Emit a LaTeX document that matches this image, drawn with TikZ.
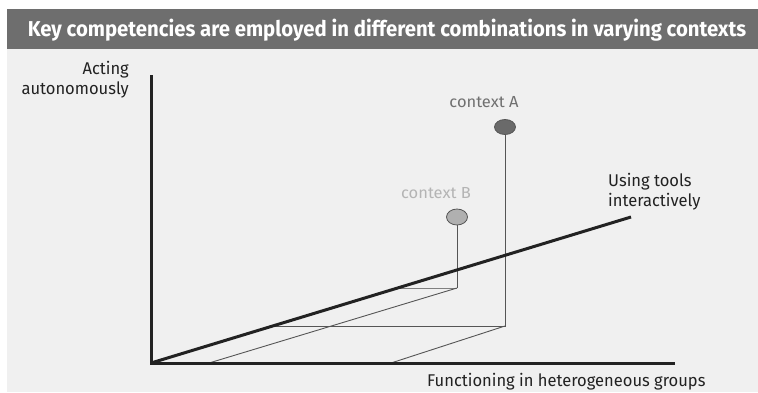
\documentclass[tikz,border=0pt]{standalone}
\usepackage{fontspec}
\setmainfont{Fira Sans}
\newfontfamily\labelfont[FakeStretch=0.972]{Fira Sans}
\newfontfamily\ctxfont[FakeStretch=1.03]{Fira Sans}
\newfontfamily\titlefont[FakeStretch=0.945]{Fira Sans Bold}
\usetikzlibrary{shapes.geometric}
\definecolor{barcol}{HTML}{6E6E6E}
\definecolor{bgcol}{HTML}{F0F0F0}
\definecolor{axiscol}{HTML}{222222}
\definecolor{thincol}{HTML}{555555}
\definecolor{ctxA}{HTML}{6A6A6A}
\definecolor{ctxB}{HTML}{B0B0B0}
\definecolor{txtA}{HTML}{707070}
\definecolor{txtB}{HTML}{B4B4B4}
\tikzset{
  axisline/.style={draw=axiscol, line width=3pt},
  projline/.style={draw=thincol, line width=0.9pt},
  dotA/.style={ellipse, draw=thincol, line width=0.8pt, fill=ctxA, minimum width=21pt, minimum height=15pt, inner sep=0pt},
  dotB/.style={ellipse, draw=thincol, line width=0.8pt, fill=ctxB, minimum width=21pt, minimum height=16pt, inner sep=0pt},
  axislabel/.style={inner sep=0pt, text=axiscol, font=\labelfont\fontsize{17}{20}\selectfont},
  ctxlabel/.style={inner sep=0pt, font=\ctxfont\fontsize{16}{19}\selectfont},
}
\begin{document}
\begin{tikzpicture}[x=1pt,y=-1pt]
\useasboundingbox (0,0) rectangle (758,392);
\fill[white] (0,0) rectangle (758,392);
\fill[bgcol] (7,49) rectangle (758,392);
\fill[barcol] (7,9) rectangle (758,49);
\node[inner sep=0pt, anchor=base, text=white, font=\titlefont\fontsize{21.5}{24}\selectfont] (title) at (387,36) {Key competencies are employed in different combinations in varying contexts};

% named points
\coordinate (O) at (151,363);
\coordinate (Ytop) at (151,75);
\coordinate (Xend) at (675,363);
\coordinate (Tend) at (631,217);
\coordinate (Ac) at (505,326);
\coordinate (Ah) at (273,326);
\coordinate (Ax) at (391,363);
\coordinate (Bc) at (457,288);
\coordinate (Bh) at (398,288);
\coordinate (Bx) at (209,363);

\node[dotA] (A) at (505,127) {};
\node[dotB] (B) at (457,217) {};

% projection lines
\draw[projline] (A.south) -- (Ac) -- (Ah);
\draw[projline] (Ac) -- (Ax);
\draw[projline] (B.south) -- (Bc);
\draw[projline, draw=gray] (Bc) -- (Bh);
\draw[projline] (Bc) -- (Bx);

% axes
\draw[axisline] (O) -- (Tend);
\draw[axisline, line join=miter] (Ytop) -- (O) -- (Xend);

% labels
\node[axislabel, anchor=north east, align=right] (yl) at (129,61) {Acting\\autonomously};
\node[axislabel, anchor=north west, align=left] (tl) at (608,173) {Using tools\\interactively};
\node[axislabel, anchor=base west] (xl) at (427,386) {Functioning in heterogeneous groups};
\node[ctxlabel, text=txtA, anchor=base] (la) at (484,107) {context A};
\node[ctxlabel, text=txtB, anchor=base] (lb) at (436,198) {context B};
\end{tikzpicture}
\end{document}
